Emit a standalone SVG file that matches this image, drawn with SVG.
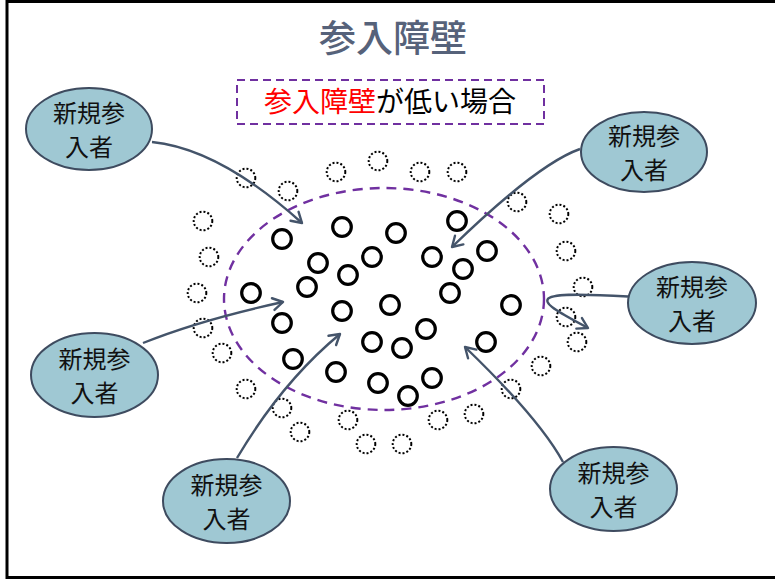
<svg xmlns="http://www.w3.org/2000/svg" width="775" height="581" viewBox="0 0 775 581">
<defs>
<style>
.frame{fill:#fff;stroke:#000;stroke-width:3}
.title{font-family:"Noto Sans CJK JP","Noto Sans",sans-serif;font-size:37px;font-weight:500;fill:#56627A;text-anchor:middle}
.lbl{font-family:"Noto Sans CJK JP","Noto Sans",sans-serif;font-size:28px;fill:#000;text-anchor:middle}
.red{fill:#FF0000}
.lblbox{fill:none;stroke:#7030A0;stroke-width:2;stroke-dasharray:8 5}
.market{fill:none;stroke:#7030A0;stroke-width:2.4;stroke-dasharray:10 7}
.firm{fill:#fff;stroke:#000;stroke-width:3.2}
.pot{fill:none;stroke:#000;stroke-width:2;stroke-dasharray:2 2}
.node ellipse{fill:#9FC8D3;stroke:#3E4B5F;stroke-width:2}
.node text{font-family:"Noto Sans CJK JP","Noto Sans",sans-serif;font-size:24px;fill:#111;text-anchor:middle}
.conn path{fill:none;stroke:#44546A;stroke-width:2.4;marker-end:url(#arr)}
</style>
<marker id="arr" markerUnits="userSpaceOnUse" markerWidth="16" markerHeight="16" viewBox="0 0 16 16" refX="13" refY="8" orient="auto">
<path d="M3,2 L13,8 L3,14" fill="none" stroke="#44546A" stroke-width="2.4" stroke-linejoin="round" stroke-linecap="round"/>
</marker>
</defs>
<rect class="frame" x="7" y="1.5" width="800" height="576"/>
<text class="title" x="393" y="52">参入障壁</text>
<g id="label">
<rect class="lblbox" x="237" y="80" width="307" height="44"/>
<text class="lbl" x="390" y="112"><tspan class="red">参入障壁</tspan>が低い場合</text>
</g>
<g id="market">
<ellipse class="market" cx="384" cy="299" rx="160" ry="111"/>
</g>
<g id="potential-entrants">
<circle class="pot" cx="246" cy="178" r="9.3"/>
<circle class="pot" cx="288" cy="191" r="9.3"/>
<circle class="pot" cx="336" cy="172" r="9.3"/>
<circle class="pot" cx="378" cy="161" r="9.3"/>
<circle class="pot" cx="420" cy="172" r="9.3"/>
<circle class="pot" cx="457" cy="172" r="9.3"/>
<circle class="pot" cx="517" cy="202" r="9.3"/>
<circle class="pot" cx="559" cy="214" r="9.3"/>
<circle class="pot" cx="566" cy="251" r="9.3"/>
<circle class="pot" cx="583" cy="287" r="9.3"/>
<circle class="pot" cx="203" cy="221" r="9.3"/>
<circle class="pot" cx="209" cy="257" r="9.3"/>
<circle class="pot" cx="197" cy="293" r="9.3"/>
<circle class="pot" cx="203" cy="328" r="9.3"/>
<circle class="pot" cx="222" cy="353" r="9.3"/>
<circle class="pot" cx="246" cy="389" r="9.3"/>
<circle class="pot" cx="282" cy="408" r="9.3"/>
<circle class="pot" cx="300" cy="432" r="9.3"/>
<circle class="pot" cx="348" cy="420" r="9.3"/>
<circle class="pot" cx="366" cy="444" r="9.3"/>
<circle class="pot" cx="402" cy="444" r="9.3"/>
<circle class="pot" cx="438" cy="420" r="9.3"/>
<circle class="pot" cx="474" cy="414" r="9.3"/>
<circle class="pot" cx="511" cy="389" r="9.3"/>
<circle class="pot" cx="541" cy="366" r="9.3"/>
<circle class="pot" cx="566" cy="317" r="9.3"/>
<circle class="pot" cx="577" cy="342" r="9.3"/>
</g>
<g id="incumbents">
<circle class="firm" cx="282" cy="239" r="9.3"/>
<circle class="firm" cx="342" cy="227" r="9.3"/>
<circle class="firm" cx="396" cy="233" r="9.3"/>
<circle class="firm" cx="457" cy="221" r="9.3"/>
<circle class="firm" cx="318" cy="263" r="9.3"/>
<circle class="firm" cx="348" cy="275" r="9.3"/>
<circle class="firm" cx="372" cy="257" r="9.3"/>
<circle class="firm" cx="432" cy="257" r="9.3"/>
<circle class="firm" cx="463" cy="269" r="9.3"/>
<circle class="firm" cx="487" cy="251" r="9.3"/>
<circle class="firm" cx="251" cy="293" r="9.3"/>
<circle class="firm" cx="307" cy="287" r="9.3"/>
<circle class="firm" cx="450" cy="293" r="9.3"/>
<circle class="firm" cx="342" cy="311" r="9.3"/>
<circle class="firm" cx="390" cy="305" r="9.3"/>
<circle class="firm" cx="511" cy="305" r="9.3"/>
<circle class="firm" cx="282" cy="323" r="9.3"/>
<circle class="firm" cx="372" cy="342" r="9.3"/>
<circle class="firm" cx="402" cy="348" r="9.3"/>
<circle class="firm" cx="426" cy="329" r="9.3"/>
<circle class="firm" cx="486" cy="342" r="9.3"/>
<circle class="firm" cx="293" cy="359" r="9.3"/>
<circle class="firm" cx="336" cy="372" r="9.3"/>
<circle class="firm" cx="378" cy="383" r="9.3"/>
<circle class="firm" cx="408" cy="396" r="9.3"/>
<circle class="firm" cx="432" cy="378" r="9.3"/>
</g>
<g id="connectors" class="conn">
<path d="M152,142 Q219.5,148.8 302,223"/>
<path d="M580,149 Q537.8,163.8 452,247"/>
<path d="M628,296.5 C520,290 535,300 588,328"/>
<path d="M143,343 Q200,320 283,302"/>
<path d="M237,458 Q282,382 340,334"/>
<path d="M563,462 Q538.9,418.1 465,347"/>
</g>
<g id="entrant-1" class="node">
<ellipse cx="89" cy="129" rx="63" ry="41"/>
<text x="89" y="122">新規参</text>
<text x="89" y="156">入者</text>
</g>
<g id="entrant-2" class="node">
<ellipse cx="644" cy="152" rx="63" ry="40"/>
<text x="644" y="145">新規参</text>
<text x="644" y="179">入者</text>
</g>
<g id="entrant-3" class="node">
<ellipse cx="692" cy="303" rx="64" ry="41"/>
<text x="692" y="296">新規参</text>
<text x="692" y="330">入者</text>
</g>
<g id="entrant-4" class="node">
<ellipse cx="94.5" cy="375" rx="63.5" ry="42"/>
<text x="94.5" y="368">新規参</text>
<text x="94.5" y="402">入者</text>
</g>
<g id="entrant-5" class="node">
<ellipse cx="226.5" cy="501" rx="63.5" ry="42"/>
<text x="226.5" y="494">新規参</text>
<text x="226.5" y="528">入者</text>
</g>
<g id="entrant-6" class="node">
<ellipse cx="613.5" cy="489" rx="63.5" ry="42"/>
<text x="613.5" y="482">新規参</text>
<text x="613.5" y="516">入者</text>
</g>
</svg>
